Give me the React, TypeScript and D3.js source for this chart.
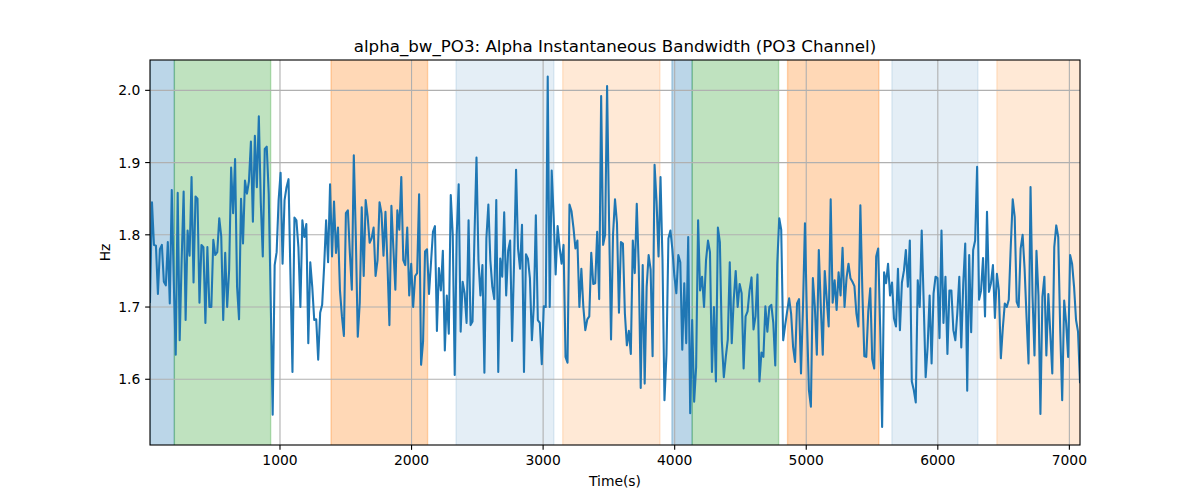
import React from "react";
import * as d3 from "d3";

const TITLE = "alpha_bw_PO3: Alpha Instantaneous Bandwidth (PO3 Channel)";
const X_LABEL = "Time(s)";
const Y_LABEL = "Hz";

// sampling grid of the signal (seconds)
const T_START = 12;
const T_STEP = 15.04;

const bwValues: number[] = [
  // 0 - 950 s
  1.707, 1.845, 1.786, 1.785, 1.718, 1.78, 1.786, 1.735, 1.73, 1.79,
  1.705, 1.862, 1.737, 1.634, 1.858, 1.654, 1.765, 1.86, 1.682, 1.806,
  1.771, 1.88, 1.734, 1.853, 1.85, 1.706, 1.786, 1.783, 1.678, 1.783,
  1.70, 1.70, 1.793, 1.772, 1.776, 1.823, 1.798, 1.682, 1.775, 1.70,
  1.752, 1.893, 1.83, 1.905, 1.728, 1.683, 1.85, 1.788, 1.875, 1.857,
  1.874, 1.929, 1.818, 1.937, 1.866, 1.964, 1.844, 1.77, 1.919, 1.922,
  1.857, 1.71, 1.551, 1.758, 1.776, 1.848, 1.886, 1.76, 1.848, 1.866,
  1.877, 1.741, 1.61, 1.824, 1.82, 1.783, 1.70, 1.82, 1.797,
  // ~1180 - 2340 s
  1.815, 1.65, 1.762, 1.728, 1.682, 1.683, 1.627, 1.692, 1.703, 1.756,
  1.82, 1.762, 1.87, 1.77, 1.846, 1.775, 1.81, 1.723, 1.687, 1.66,
  1.83, 1.834, 1.775, 1.724, 1.91, 1.80, 1.659, 1.706, 1.838, 1.743,
  1.848, 1.825, 1.789, 1.795, 1.81, 1.743, 1.765, 1.845, 1.83, 1.771,
  1.832, 1.76, 1.675, 1.84, 1.781, 1.724, 1.834, 1.807, 1.88, 1.765,
  1.758, 1.81, 1.716, 1.76, 1.70, 1.743, 1.747, 1.856, 1.62, 1.652,
  1.777, 1.78, 1.718, 1.761, 1.804, 1.812, 1.667, 1.754, 1.723, 1.778,
  1.64, 1.716, 1.663, 1.855, 1.80, 1.606, 1.80, 1.87,
  // ~2350 - 3530 s
  1.666, 1.735, 1.719, 1.678, 1.82, 1.675, 1.68, 1.80, 1.907, 1.765,
  1.716, 1.758, 1.609, 1.795, 1.842, 1.765, 1.728, 1.711, 1.848, 1.61,
  1.767, 1.742, 1.831, 1.716, 1.778, 1.792, 1.653, 1.762, 1.89, 1.781,
  1.753, 1.814, 1.61, 1.773, 1.767, 1.74, 1.654, 1.703, 1.827, 1.682,
  1.678, 1.621, 1.701, 1.70, 2.019, 1.70, 1.889, 1.825, 1.745, 1.812,
  1.783, 1.76, 1.786, 1.631, 1.623, 1.842, 1.833, 1.81, 1.781, 1.792,
  1.70, 1.753, 1.70, 1.668, 1.683, 1.687, 1.775, 1.732, 1.733, 1.804,
  1.711, 1.992, 1.786, 1.80, 2.006, 1.82, 1.655, 1.80, 1.849,
  // ~3540 - 4720 s
  1.816, 1.692, 1.79, 1.788, 1.691, 1.647, 1.667, 1.635, 1.792, 1.747,
  1.843, 1.756, 1.588, 1.758, 1.594, 1.728, 1.772, 1.752, 1.632, 1.897,
  1.846, 1.77, 1.88, 1.765, 1.571, 1.634, 1.795, 1.806, 1.78, 1.743,
  1.719, 1.772, 1.762, 1.641, 1.733, 1.65, 1.797, 1.553, 1.682, 1.569,
  1.617, 1.82, 1.723, 1.742, 1.70, 1.765, 1.792, 1.776, 1.61, 1.70,
  1.597, 1.81, 1.79, 1.653, 1.603, 1.631, 1.655, 1.762, 1.65, 1.71,
  1.75, 1.70, 1.732, 1.719, 1.615, 1.687, 1.694, 1.723, 1.741, 1.669,
  1.687, 1.745, 1.597, 1.637, 1.631, 1.701, 1.666, 1.70, 1.703,
  // ~4730 - 5870 s
  1.678, 1.619, 1.76, 1.823, 1.807, 1.654, 1.675, 1.694, 1.712, 1.691,
  1.645, 1.624, 1.705, 1.711, 1.608, 1.70, 1.816, 1.684, 1.585, 1.562,
  1.74, 1.70, 1.634, 1.779, 1.701, 1.634, 1.75, 1.711, 1.673, 1.849,
  1.706, 1.737, 1.696, 1.748, 1.716, 1.782, 1.70, 1.74, 1.76, 1.74,
  1.735, 1.729, 1.691, 1.673, 1.841, 1.723, 1.632, 1.631, 1.694, 1.726,
  1.628, 1.615, 1.77, 1.781, 1.673, 1.534, 1.748, 1.733, 1.76, 1.716,
  1.734, 1.684, 1.673, 1.753, 1.668, 1.734, 1.75, 1.779, 1.728, 1.792,
  1.597, 1.585, 1.568, 1.737, 1.70, 1.806,
  // ~5880 - 7080 s
  1.707, 1.603, 1.645, 1.716, 1.622, 1.719, 1.742, 1.74, 1.657, 1.806,
  1.678, 1.742, 1.635, 1.723, 1.723, 1.668, 1.654, 1.692, 1.742, 1.644,
  1.733, 1.788, 1.584, 1.772, 1.665, 1.779, 1.792, 1.894, 1.71, 1.723,
  1.768, 1.687, 1.832, 1.721, 1.733, 1.758, 1.685, 1.746, 1.723, 1.629,
  1.671, 1.705, 1.70, 1.71, 1.783, 1.849, 1.825, 1.707, 1.70, 1.781,
  1.80, 1.753, 1.685, 1.622, 1.866, 1.716, 1.633, 1.778, 1.716, 1.552,
  1.714, 1.742, 1.633, 1.718, 1.663, 1.608, 1.783, 1.813, 1.797, 1.668,
  1.571, 1.709, 1.678, 1.631, 1.772, 1.76, 1.728, 1.682, 1.666, 1.596,
];

// shaded epochs
const spanStarts = [12, 197, 1388, 2338, 3149, 3979, 4133, 4858, 5651, 6449];
const spanEnds = [197, 929, 2122, 3082, 3888, 4133, 4790, 5552, 6305, 7120];
const spanKinds = ["blue", "green", "orange", "lightblue", "lightorange", "blue", "green", "orange", "lightblue", "lightorange"];

const xTicks = [1000, 2000, 3000, 4000, 5000, 6000, 7000];
const yTicks = [1.6, 1.7, 1.8, 1.9, 2.0];

const SPAN_STYLE: Record<string, { color: string; alpha: number }> = {
  blue: { color: "#1f77b4", alpha: 0.3 },
  green: { color: "#2ca02c", alpha: 0.3 },
  orange: { color: "#ff7f0e", alpha: 0.3 },
  lightblue: { color: "#1f77b4", alpha: 0.12 },
  lightorange: { color: "#ff7f0e", alpha: 0.17 },
};

const W = 1200;
const H = 500;
const M = { left: 150, right: 1080, top: 60, bottom: 445 };
const FONT = "DejaVu Sans, Liberation Sans, sans-serif";

export default function App() {
  const times = bwValues.map((_, i) => T_START + i * T_STEP);
  const tEnd = times[times.length - 1];
  const x = d3.scaleLinear().domain([T_START, tEnd]).range([M.left, M.right]);
  const y = d3.scaleLinear().domain([1.509, 2.042]).range([M.bottom, M.top]);

  const line = d3
    .line<number>()
    .x((_, i) => x(times[i]))
    .y((d) => y(d));

  const tickLen = 4.86;
  const pad = 4.86;

  return (
    <svg width={W} height={H} style={{ display: "block", margin: "-8px" }} fontFamily={FONT}>
      <defs>
        <clipPath id="plotclip">
          <rect x={M.left} y={M.top} width={M.right - M.left} height={M.bottom - M.top} />
        </clipPath>
      </defs>
      <rect x={0} y={0} width={W} height={H} fill="#fff" />
      <g clipPath="url(#plotclip)">
        {spanStarts.map((s, i) => {
          const st = SPAN_STYLE[spanKinds[i]];
          const x0 = x(s);
          const x1 = x(spanEnds[i]);
          return (
            <rect
              key={"s" + i}
              x={x0}
              y={M.top - 2}
              width={x1 - x0}
              height={M.bottom - M.top + 4}
              fill={st.color}
              fillOpacity={st.alpha}
              stroke={st.color}
              strokeOpacity={st.alpha}
              strokeWidth={1.39}
            />
          );
        })}
        {xTicks.map((t) => (
          <line key={"gx" + t} x1={x(t)} x2={x(t)} y1={M.top} y2={M.bottom} stroke="#b0b0b0" strokeWidth={1.11} />
        ))}
        {yTicks.map((t) => (
          <line key={"gy" + t} x1={M.left} x2={M.right} y1={y(t)} y2={y(t)} stroke="#b0b0b0" strokeWidth={1.11} />
        ))}
        <path d={line(bwValues) || ""} fill="none" stroke="#1f77b4" strokeWidth={2.08} strokeLinejoin="round" strokeLinecap="square" />
      </g>
      <rect
        x={M.left}
        y={M.top}
        width={M.right - M.left}
        height={M.bottom - M.top}
        fill="none"
        stroke="#000"
        strokeWidth={1.11}
      />
      {xTicks.map((t) => (
        <g key={"tx" + t}>
          <line x1={x(t)} x2={x(t)} y1={M.bottom} y2={M.bottom + tickLen} stroke="#000" strokeWidth={1.11} />
          <text x={x(t)} y={M.bottom + tickLen + pad + 10.6} textAnchor="middle" fontSize={13.89} fill="#000">
            {t}
          </text>
        </g>
      ))}
      {yTicks.map((t) => (
        <g key={"ty" + t}>
          <line x1={M.left - tickLen} x2={M.left} y1={y(t)} y2={y(t)} stroke="#000" strokeWidth={1.11} />
          <text x={M.left - tickLen - pad} y={y(t)} dy="0.36em" textAnchor="end" fontSize={13.89} fill="#000">
            {d3.format(".1f")(t)}
          </text>
        </g>
      ))}
      <text x={(M.left + M.right) / 2} y={M.top - 8.3} textAnchor="middle" fontSize={16.67} fill="#000">
        {TITLE}
      </text>
      <text x={(M.left + M.right) / 2} y={486} textAnchor="middle" fontSize={13.89} fill="#000">
        {X_LABEL}
      </text>
      <text
        transform={`translate(${110},${(M.top + M.bottom) / 2}) rotate(-90)`}
        textAnchor="middle"
        fontSize={13.89}
        fill="#000"
      >
        {Y_LABEL}
      </text>
    </svg>
  );
}
